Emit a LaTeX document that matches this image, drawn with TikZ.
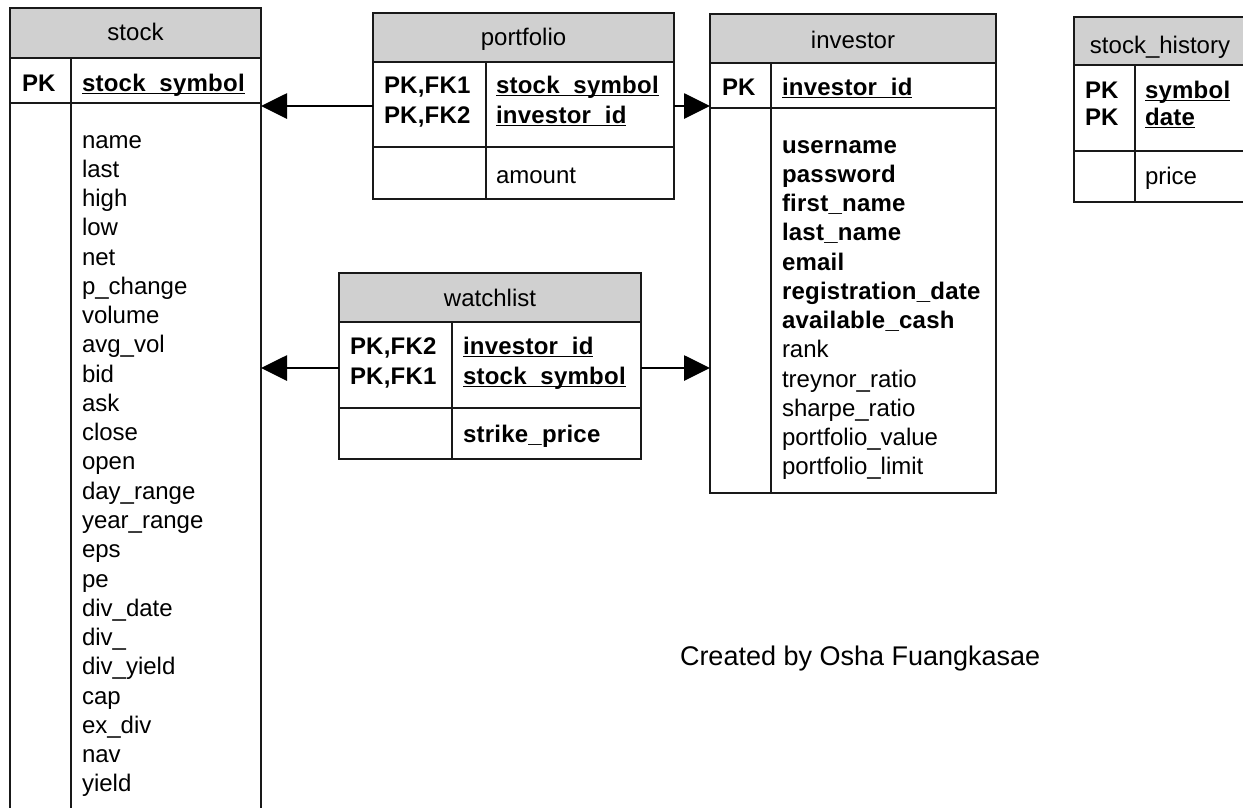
\documentclass[tikz,border=0pt]{standalone}
\usepackage{fontspec}
\setmainfont{Liberation Sans}
\usetikzlibrary{arrows.meta}

\definecolor{headfill}{RGB}{208,208,208}
\definecolor{edge}{RGB}{25,25,25}

% underline that sits just under the baseline, as in an ER tool's key columns
\newcommand\keyul[1]{\setbox0\hbox{#1}\rlap{\rule[-3.4pt]{\wd0}{1.7pt}}\box0}

\tikzset{
  every node/.style={font=\fontsize{24}{29}\selectfont, inner sep=0pt, outer sep=0pt},
  tbl/.style={draw=edge, line width=1.6pt, rectangle, anchor=north west},
  tblline/.style={draw=edge, line width=1.6pt},
  fld/.style={anchor=base west},
  keyfld/.style={anchor=base west, font=\fontsize{24}{29}\selectfont\bfseries\addfontfeature{LetterSpace=1}},
  ttl/.style={anchor=base},
  link/.style={draw=black, line width=2.8pt, -{Triangle[length=26pt,width=25pt]}},
}

% table frame: name, x1, y1, x2, y2, header bottom, key row bottom, column divider
\newcommand\ertable[8]{%
  \fill[headfill] (#2,#3) rectangle (#4,#6);
  \node[tbl, minimum width={#4-#2}, minimum height={#5-#3}] (#1) at (#2,#3) {};
  \draw[tblline] (#2,#6) -- (#4,#6) (#2,#7) -- (#4,#7) (#8,#6) -- (#8,#5);
}

\begin{document}
\begin{tikzpicture}[x=1pt, y=-1pt]
\useasboundingbox (0,0) rectangle (1243,807);
\clip (0,0) rectangle (1243,807);

% ---------------- stock ----------------
\ertable{stock}{10}{8}{261}{830}{58}{103}{71}
\node[ttl] (stock-t) at (135.5,40) {stock};
\node[keyfld] (stock-pk) at (22,91) {PK};
\node[keyfld] (stock-k1) at (82,91) {\keyul{stock\_symbol}};
\foreach \f [count=\i from 0] in {name,last,high,low,net,p\_change,volume,avg\_vol,bid,ask,close,open,day\_range,year\_range,eps,pe,div\_date,div\_,div\_yield,cap,ex\_div,nav,yield}
  \node[fld] (stock-f\i) at (82,148+29.27*\i) {\f};

% ---------------- portfolio ----------------
\ertable{portfolio}{373}{13}{674}{199}{62}{147}{486}
\node[ttl] (portfolio-t) at (523.5,45) {portfolio};
\node[keyfld] (portfolio-pk1) at (384,93) {PK,FK1};
\node[keyfld] (portfolio-pk2) at (384,123) {PK,FK2};
\node[keyfld] (portfolio-k1) at (496,93) {\keyul{stock\_symbol}};
\node[keyfld] (portfolio-k2) at (496,123) {\keyul{investor\_id}};
\node[fld] (portfolio-f0) at (496,183) {amount};

% ---------------- investor ----------------
\ertable{investor}{710}{14}{996}{493}{63}{108}{771}
\node[ttl] (investor-t) at (853,48) {investor};
\node[keyfld] (investor-pk) at (722,95) {PK};
\node[keyfld] (investor-k1) at (782,95) {\keyul{investor\_id}};
\foreach \f [count=\i from 0] in {username,password,first\_name,last\_name,email,registration\_date,available\_cash}
  \node[keyfld] (investor-b\i) at (782,153+29.27*\i) {\f};
\foreach \f [count=\i from 7] in {rank,treynor\_ratio,sharpe\_ratio,portfolio\_value,portfolio\_limit}
  \node[fld] (investor-f\i) at (782,153+29.27*\i) {\f};

% ---------------- watchlist ----------------
\ertable{watchlist}{339}{273}{641}{459}{322}{408}{452}
\node[ttl] (watchlist-t) at (490,306) {watchlist};
\node[keyfld] (watchlist-pk1) at (350,354) {PK,FK2};
\node[keyfld] (watchlist-pk2) at (350,384) {PK,FK1};
\node[keyfld] (watchlist-k1) at (463,354) {\keyul{investor\_id}};
\node[keyfld] (watchlist-k2) at (463,384) {\keyul{stock\_symbol}};
\node[keyfld] (watchlist-f0) at (463,442) {strike\_price};

% ---------------- stock_history ----------------
\ertable{history}{1074}{17}{1250}{202}{65}{151}{1135}
\node[ttl] (history-t) at (1160,53) {stock\_history};
\node[keyfld] (history-pk1) at (1085,98) {PK};
\node[keyfld] (history-pk2) at (1085,125) {PK};
\node[keyfld] (history-k1) at (1145,98) {\keyul{symbol}};
\node[keyfld] (history-k2) at (1145,125) {\keyul{date}};
\node[fld] (history-f0) at (1145,184) {price};

% ---------------- relationships ----------------
\draw[link] (portfolio.west) -- (portfolio.west -| stock.east);
\draw[link] (portfolio.east) -- (portfolio.east -| investor.west);
\coordinate (wl-l) at ([yshift=-2pt]watchlist.west);
\coordinate (wl-r) at ([yshift=-2pt]watchlist.east);
\draw[link] (wl-l) -- (wl-l -| stock.east);
\draw[link] (wl-r) -- (wl-r -| investor.west);

% ---------------- credit ----------------
\node[anchor=base west, font=\fontsize{27}{31}\selectfont] (credit) at (680,665) {Created by Osha Fuangkasae};
\end{tikzpicture}
\end{document}
